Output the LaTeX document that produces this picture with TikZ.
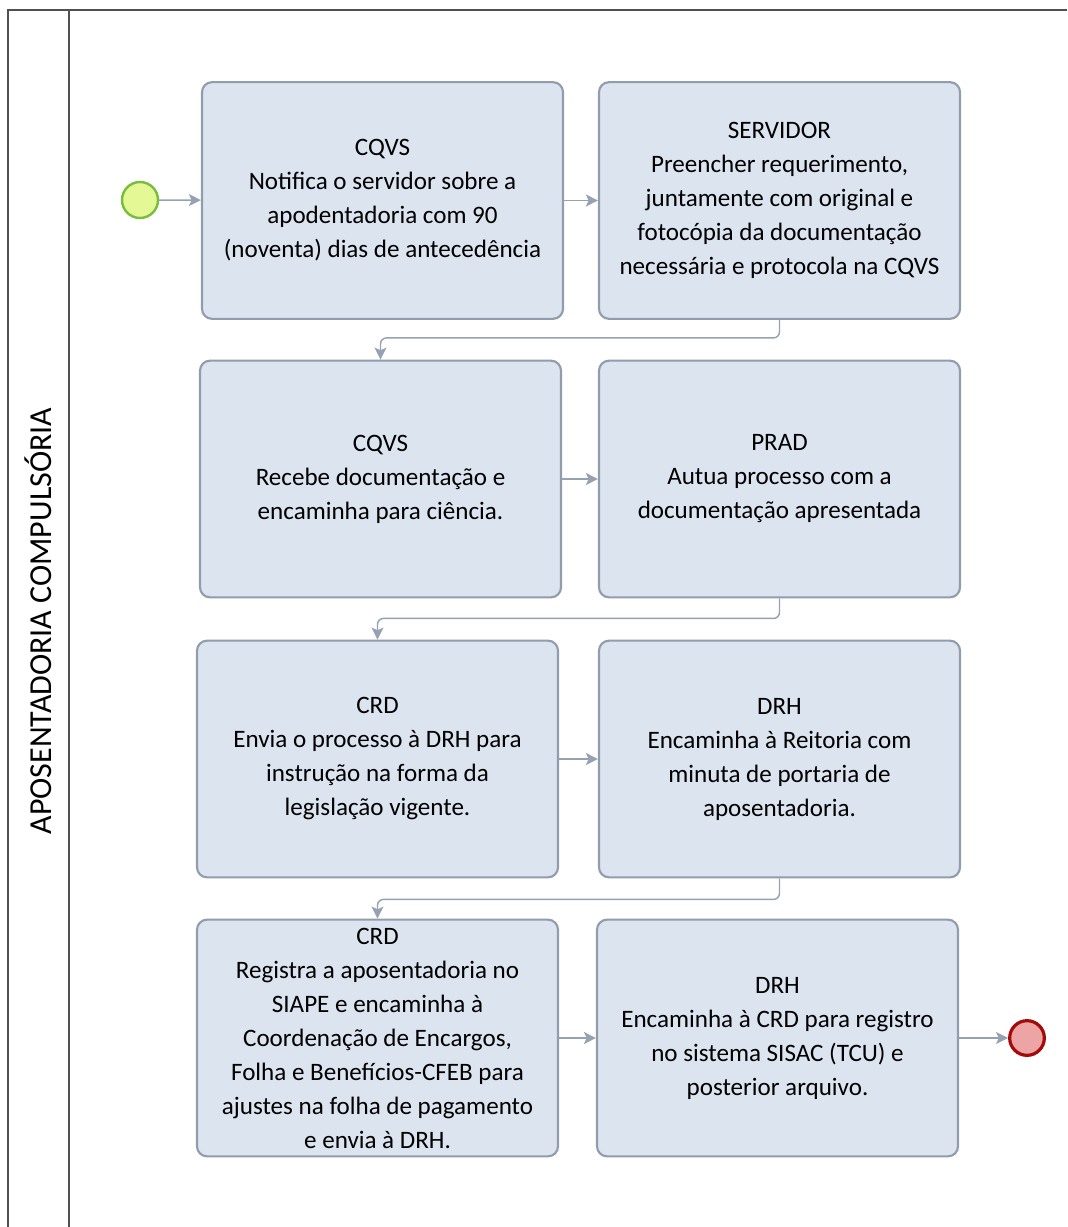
\documentclass[tikz,border=0pt]{standalone}
\usepackage{fontspec}
\setmainfont{Carlito}
\usetikzlibrary{arrows.meta}
\definecolor{taskfill}{RGB}{220,228,240}
\definecolor{taskdraw}{RGB}{145,156,172}
\definecolor{flowc}{RGB}{150,162,178}
\definecolor{startfill}{RGB}{228,248,150}
\definecolor{startdraw}{RGB}{120,190,60}
\definecolor{endfill}{RGB}{236,164,164}
\definecolor{enddraw}{RGB}{165,10,10}
\definecolor{poolc}{RGB}{80,80,80}
\begin{document}
\begin{tikzpicture}[x=0.75pt,y=-0.75pt,
  task/.style={draw=taskdraw,fill=taskfill,line width=1.6pt,rounded corners=7.5pt,
    minimum width=270.75pt,minimum height=177.5pt,inner sep=0pt,align=center,
    font=\fontsize{18.8pt}{25.5pt}\selectfont},
  flow/.style={draw=flowc,line width=1.1pt,rounded corners=4.5pt,
    -{Stealth[length=9pt,width=9pt,inset=2pt]}},
  startev/.style={circle,draw=startdraw,fill=startfill,line width=1.8pt,minimum size=27pt,inner sep=0pt},
  endev/.style={circle,draw=enddraw,fill=endfill,line width=2.4pt,minimum size=26pt,inner sep=0pt},
  pool/.style={draw=poolc,line width=1.3pt}]
\useasboundingbox (0,0) rectangle (1067,1227);
\draw[pool] (1067,10) -- (8,10) -- (8,1227);
\draw[pool] (69,10) -- (69,1227);
\node[rotate=90,font=\fontsize{24pt}{28pt}\selectfont] (lbl) at (38,621) {APOSENTADORIA COMPULSÓRIA};

\node[startev] (st) at (140,200) {};
\node[endev] (en) at (1027,1038) {};

\node[task] (A) at (382.5,200.5) {CQVS\\Notifica o servidor sobre a\\apodentadoria com 90\\(noventa) dias de antecedência};
\node[task] (B) at (779.5,200.5) {SERVIDOR\\Preencher requerimento,\\juntamente com original e\\fotocópia da documentação\\necessária e protocola na CQVS};
\node[task] (C) at (380.5,479) {CQVS\\Recebe documentação e\\encaminha para ciência.};
\node[task] (D) at (779.5,479) {PRAD\\Autua processo com a\\documentação apresentada};
\node[task] (E) at (377.5,759) {CRD\\Envia o processo à DRH para\\instrução na forma da\\legislação vigente.};
\node[task] (F) at (779.5,759) {DRH\\Encaminha à Reitoria com\\minuta de portaria de\\aposentadoria.};
\node[task] (G) at (377.5,1038) {CRD\\Registra a aposentadoria no\\SIAPE e encaminha à\\Coordenação de Encargos,\\Folha e Benefícios-CFEB para\\ajustes na folha de pagamento\\e envia à DRH.};
\node[task] (H) at (777.5,1038) {DRH\\Encaminha à CRD para registro\\no sistema SISAC (TCU) e\\posterior arquivo.};

\draw[flow] (st) -- (A);
\draw[flow] (A) -- (B);
\draw[flow] (B.south) -- ++(0,18) -| (C.north);
\draw[flow] (C) -- (D);
\draw[flow] (D.south) -- ++(0,20) -| (E.north);
\draw[flow] (E) -- (F);
\draw[flow] (F.south) -- ++(0,21) -| (G.north);
\draw[flow] (G) -- (H);
\draw[flow] (H) -- (en);
\end{tikzpicture}
\end{document}
